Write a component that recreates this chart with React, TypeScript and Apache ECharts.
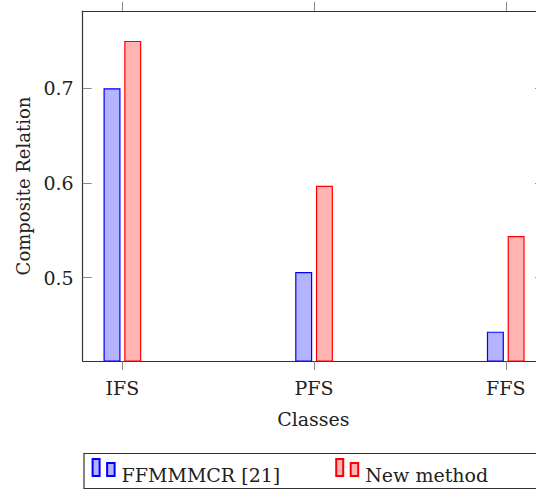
import React, { useEffect, useRef } from "react";
import * as echarts from "echarts";

const categories = ["IFS", "PFS", "FFS"];
const seriesNames = ["FFMMMCR [21]", "New method"];
const ffmmmcr = [0.7, 0.506, 0.443];
const newMethod = [0.75, 0.597, 0.544];
const yTicks = [0.5, 0.6, 0.7];
const xTicks = [0, 1, 2];

const FONT = "DejaVu Serif";

export default function App() {
  const ref = useRef<HTMLDivElement>(null);
  useEffect(() => {
    if (!ref.current) return;
    const chart = echarts.init(ref.current, undefined, { renderer: "svg" });
    const xMin = -0.207;
    const xMax = 2.2;
    const yMin = 0.412;
    const yMax = 0.7816;
    const iconPath = "path://M0,0H7V17H0Z M14.5,4H22V17H14.5Z";
    const option: any = {
      animation: false,
      backgroundColor: "#ffffff",
      grid: {
        left: 82.7,
        top: 11,
        width: 461.4,
        height: 350,
        containLabel: false,
        outerBoundsMode: "none",
      },
      xAxis: [
        {
          type: "value",
          position: "bottom",
          min: xMin,
          max: xMax,
          name: "Classes",
          nameLocation: "middle",
          nameGap: 48,
          nameTextStyle: { fontFamily: FONT, fontSize: 19, color: "#222" },
          axisLine: { show: true, onZero: false, lineStyle: { color: "#333", width: 1.2 } },
          axisTick: { show: true, inside: false, length: 9, customValues: xTicks, lineStyle: { color: "#888", width: 1 } },
          axisLabel: {
            show: true,
            customValues: xTicks,
            margin: 17,
            fontFamily: FONT,
            fontSize: 19,
            color: "#222",
            formatter: (v: number) => categories[Math.round(v)] ?? "",
          },
          splitLine: { show: false },
        },
        {
          type: "value",
          position: "top",
          min: xMin,
          max: xMax,
          axisLine: { show: true, onZero: false, lineStyle: { color: "#333", width: 1.2 } },
          axisTick: { show: true, inside: false, length: 9, customValues: xTicks, lineStyle: { color: "#888", width: 1 } },
          axisLabel: { show: false },
          splitLine: { show: false },
        },
      ],
      yAxis: [
        {
          type: "value",
          position: "left",
          min: yMin,
          max: yMax,
          name: "Composite Relation",
          nameLocation: "middle",
          nameGap: 50,
          nameTextStyle: { fontFamily: FONT, fontSize: 18, color: "#222" },
          axisLine: { show: true, onZero: false, lineStyle: { color: "#333", width: 1.2 } },
          axisTick: { show: true, inside: true, length: 9, customValues: yTicks, lineStyle: { color: "#888", width: 1 } },
          axisLabel: {
            show: true,
            customValues: yTicks,
            margin: 9,
            fontFamily: FONT,
            fontSize: 19,
            color: "#222",
            formatter: (v: number) => v.toFixed(1),
          },
          splitLine: { show: false },
        },
        {
          type: "value",
          position: "right",
          min: yMin,
          max: yMax,
          axisLine: { show: true, onZero: false, lineStyle: { color: "#333", width: 1.2 } },
          axisTick: { show: true, inside: true, length: 9, customValues: yTicks, lineStyle: { color: "#888", width: 1 } },
          axisLabel: { show: false },
          splitLine: { show: false },
        },
      ],
      legend: {
        left: 91.6,
        top: 458,
        padding: 0,
        itemGap: 55,
        itemWidth: 22,
        itemHeight: 17,
        icon: iconPath,
        formatter: (name: string) => `{t|${name}}`,
        textStyle: {
          fontFamily: FONT,
          fontSize: 19,
          color: "#222",
          rich: {
            t: { fontFamily: FONT, fontSize: 19, color: "#222", padding: [14, 0, 0, 2] },
          },
        },
        data: seriesNames,
      },
      graphic: [
        {
          type: "rect",
          shape: { x: 84, y: 453.5, width: 600, height: 35 },
          style: { fill: "none", stroke: "#333", lineWidth: 1.2 },
          silent: true,
          z: -1,
        },
      ],
      series: [
        {
          name: seriesNames[0],
          type: "bar",
          xAxisIndex: 0,
          yAxisIndex: 0,
          barWidth: 17,
          barGap: "22%",
          data: ffmmmcr.map((v, i) => [i, v]),
          itemStyle: { color: "#b3b3ff", borderColor: "#0000ff", borderWidth: 1.2 },
        },
        {
          name: seriesNames[1],
          type: "bar",
          xAxisIndex: 0,
          yAxisIndex: 0,
          barWidth: 17,
          barGap: "22%",
          data: newMethod.map((v, i) => [i, v]),
          itemStyle: { color: "#ffb3b3", borderColor: "#ff0000", borderWidth: 1.2 },
        },
      ],
    };
    chart.setOption(option);
    return () => chart.dispose();
  }, []);
  return (
    <div
      ref={ref}
      style={{ position: "fixed", left: 0, top: 0, width: 536, height: 492, overflow: "hidden", background: "#fff" }}
    />
  );
}
